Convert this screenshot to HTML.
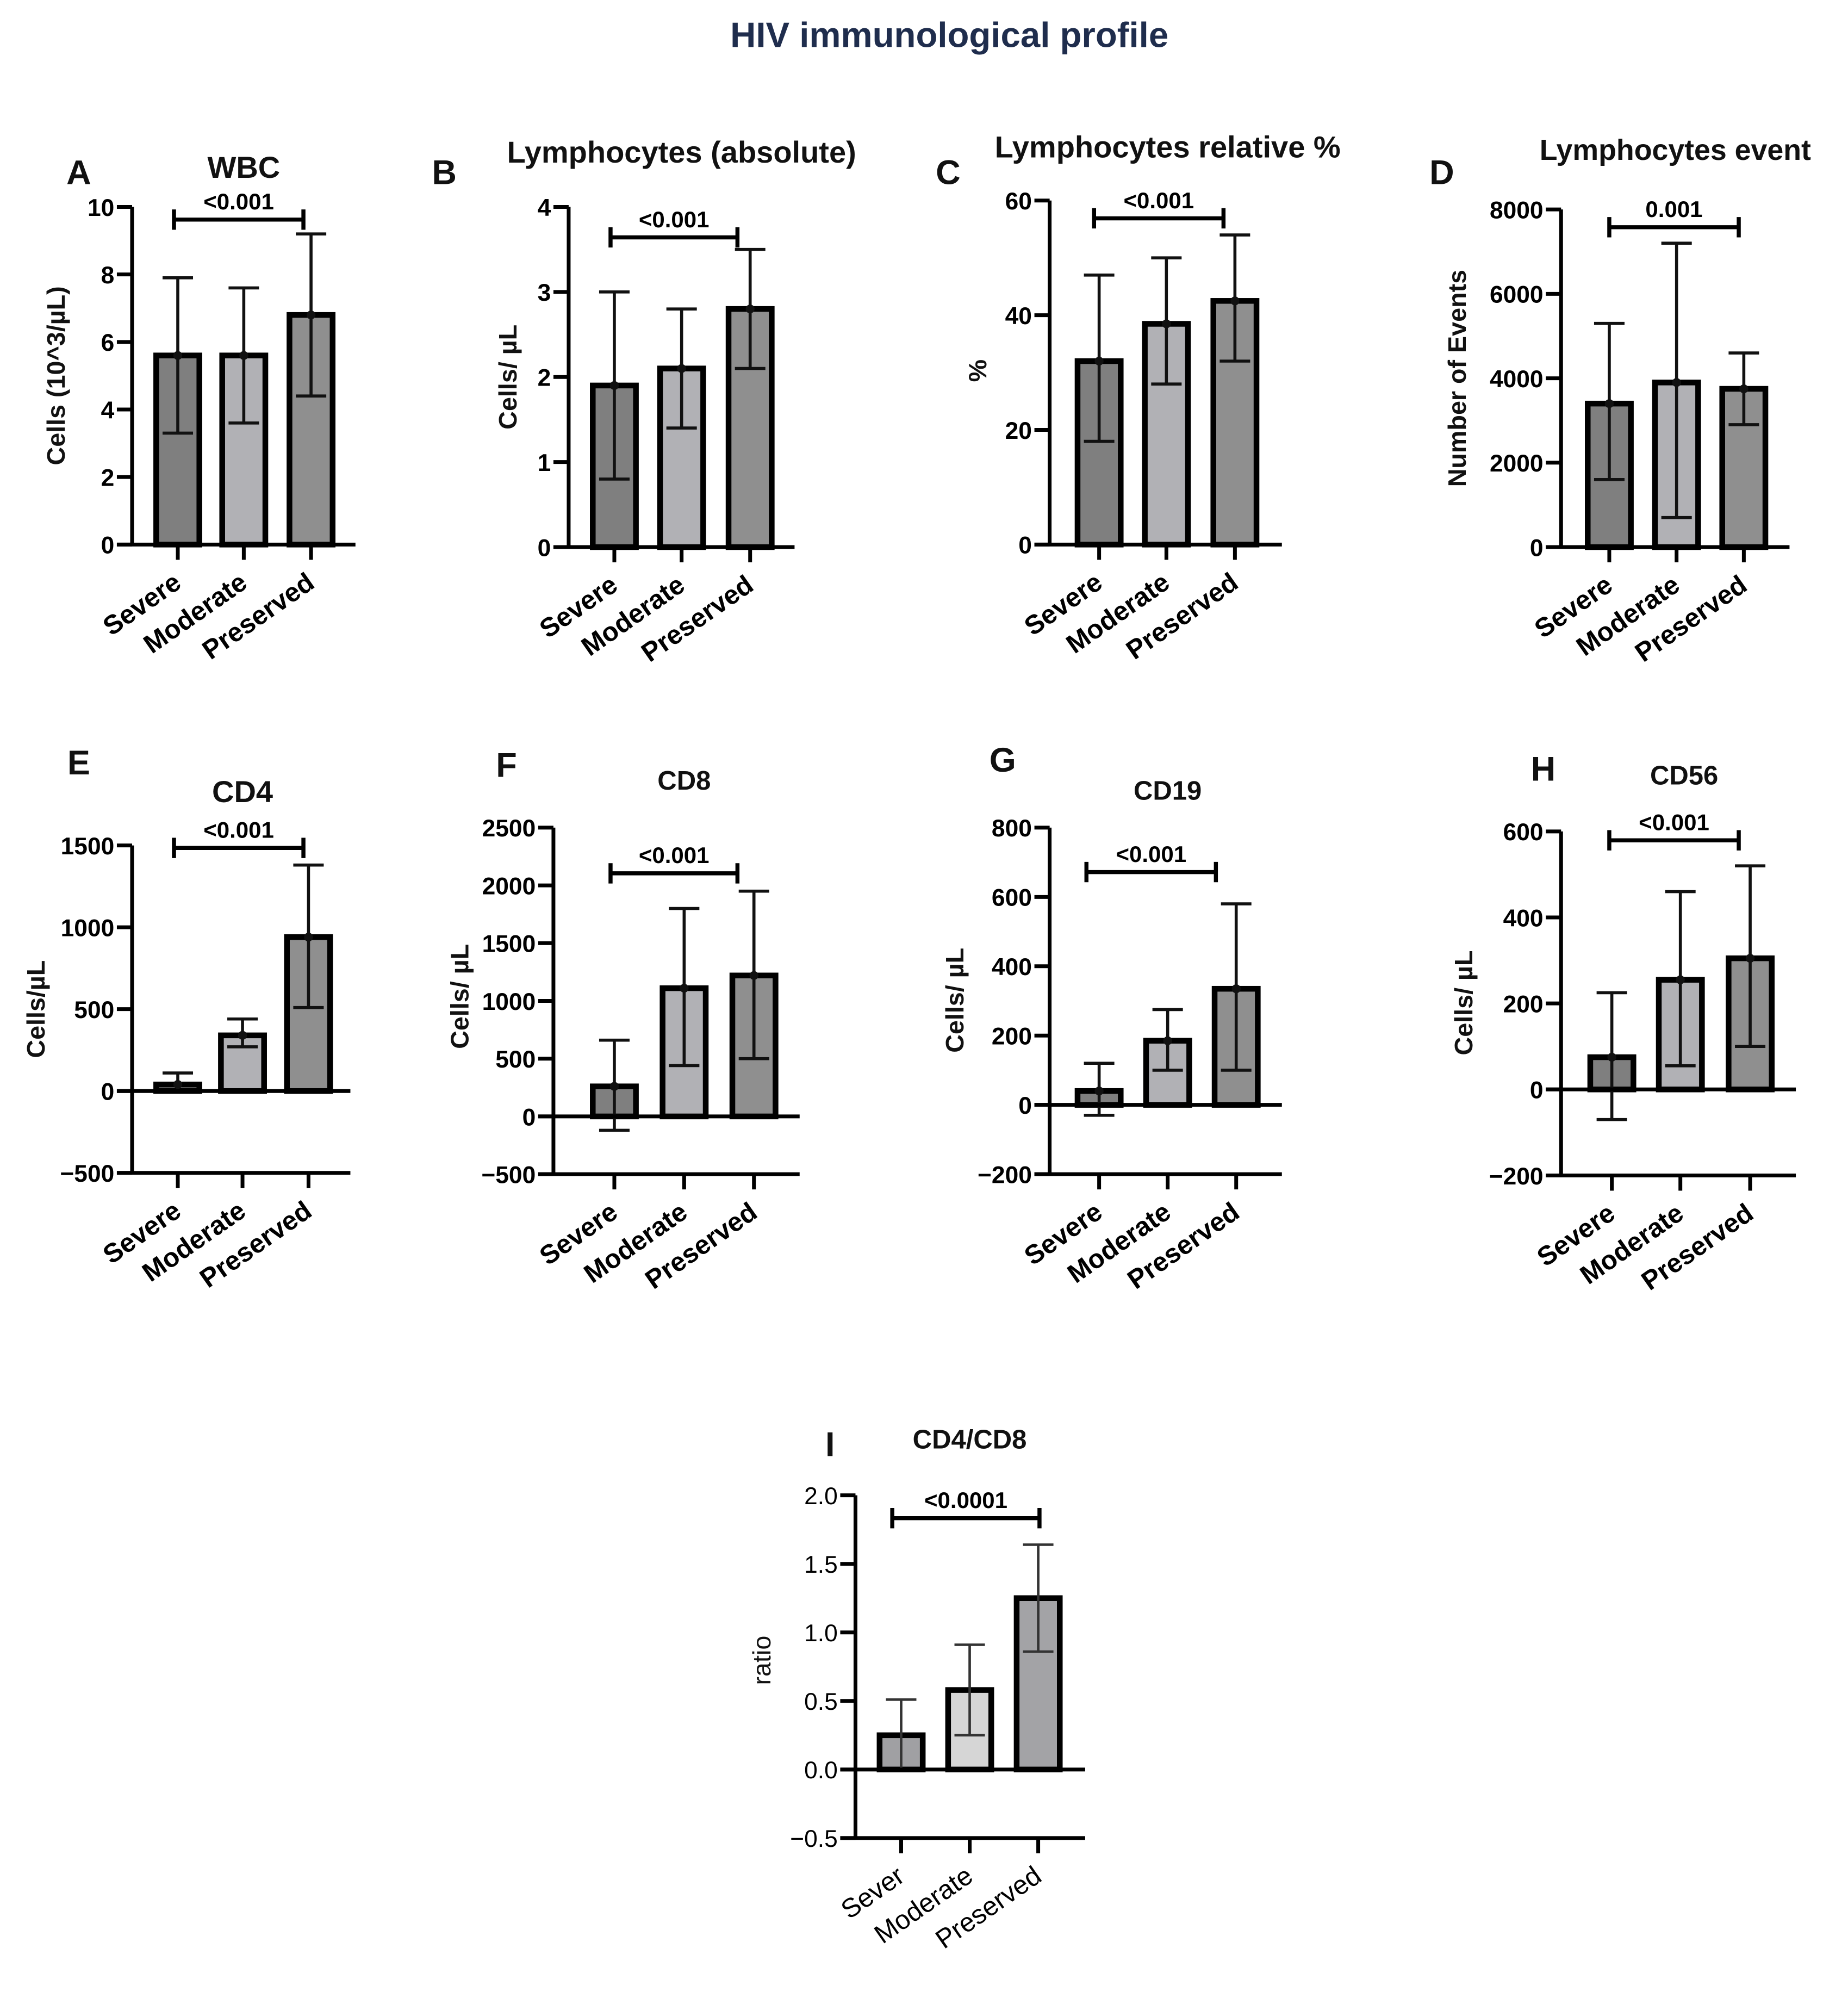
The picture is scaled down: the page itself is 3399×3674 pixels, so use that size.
<!DOCTYPE html>
<html><head><meta charset="utf-8"><style>
html,body{margin:0;padding:0;background:#fff;}
svg{display:block;font-family:"Liberation Sans",Arial,sans-serif;font-weight:bold;}
</style></head><body>
<svg id="fig" width="3399" height="3674" viewBox="0 0 1456 1574" xmlns="http://www.w3.org/2000/svg">
<text x="748" y="37" text-anchor="middle" font-size="28" fill="#1f2d4d">HIV immunological profile</text>
</svg>
<script>
const catsMain=["Severe","Moderate","Preserved"];
const catsI=["Sever","Moderate","Preserved"];
const valsA=[5.6,5.6,6.8], loA=[3.3,3.6,4.4], hiA=[7.9,7.6,9.2], ticksA=[0,2,4,6,8,10];
const valsB=[1.9,2.1,2.8], loB=[0.8,1.4,2.1], hiB=[3.0,2.8,3.5], ticksB=[0,1,2,3,4];
const valsC=[32,38.5,42.5], loC=[18,28,32], hiC=[47,50,54], ticksC=[0,20,40,60];
const valsD=[3400,3900,3750], loD=[1600,700,2900], hiD=[5300,7200,4600], ticksD=[0,2000,4000,6000,8000];
const valsE=[40,340,940], loE=[0,270,510], hiE=[110,440,1380], ticksE=[-500,0,500,1000,1500];
const valsF=[260,1110,1220], loF=[-120,440,500], hiF=[660,1800,1950], ticksF=[-500,0,500,1000,1500,2000,2500];
const valsG=[40,185,335], loG=[-30,100,100], hiG=[120,275,580], ticksG=[-200,0,200,400,600,800];
const valsH=[75,255,305], loH=[-70,55,100], hiH=[225,460,520], ticksH=[-200,0,200,400,600];
const valsI=[0.25,0.58,1.25], loI=[0,0.25,0.86], hiI=[0.51,0.91,1.64], ticksI=[-0.5,0,0.5,1.0,1.5,2.0];
const tickTextI=["−0.5","0.0","0.5","1.0","1.5","2.0"];

const NS="http://www.w3.org/2000/svg";
const svg=document.getElementById('fig');
function mk(tag,attrs,parent){const e=document.createElementNS(NS,tag);for(const k in attrs)e.setAttribute(k,attrs[k]);(parent||svg).appendChild(e);return e;}
function fmt(v){return v<0?"−"+Math.abs(v):String(v);}

const panels=[
 {id:"a",letter:"A",lx:62,ly:145,title:"WBC",tx:192,ty:140,ts:24,ylab:"Cells (10^3/µL)",ylx:51,yly:296,ax:104,x1:280,ytop:163,ybot:429,cx:[140,192,245],bw:34,
  vals:valsA,lo:loA,hi:hiA,ticks:ticksA,cats:catsMain,sig:[137,239,173],sigT:"<0.001",fills:["#7f7f7f","#b1b1b5","#8f8f8f"]},
 {id:"b",letter:"B",lx:350,ly:145,title:"Lymphocytes (absolute)",tx:537,ty:128,ts:24,ylab:"Cells/ µL",ylx:407,yly:297,ax:448,x1:626,ytop:163,ybot:431,cx:[484,537,591],bw:34,
  vals:valsB,lo:loB,hi:hiB,ticks:ticksB,cats:catsMain,sig:[481,581,187],sigT:"<0.001",fills:["#7f7f7f","#b1b1b5","#8f8f8f"]},
 {id:"c",letter:"C",lx:747,ly:145,title:"Lymphocytes relative %",tx:920,ty:124,ts:24,ylab:"%",ylx:777,yly:292,ax:827,x1:1010,ytop:158,ybot:429,cx:[866,919,973],bw:34,
  vals:valsC,lo:loC,hi:hiC,ticks:ticksC,cats:catsMain,sig:[862,964,172],sigT:"<0.001",fills:["#7f7f7f","#b1b1b5","#8f8f8f"]},
 {id:"d",letter:"D",lx:1136,ly:145,title:"Lymphocytes event",tx:1320,ty:126,ts:23,ylab:"Number of Events",ylx:1155,yly:298,ax:1230,x1:1410,ytop:165,ybot:431,cx:[1268,1321,1374],bw:34,
  vals:valsD,lo:loD,hi:hiD,ticks:ticksD,cats:catsMain,sig:[1268,1370,179],sigT:"0.001",fills:["#7f7f7f","#b1b1b5","#8f8f8f"]},
 {id:"e",letter:"E",lx:62,ly:610,title:"CD4",tx:191,ty:632,ts:24,ylab:"Cells/µL",ylx:35,yly:795,ax:104,x1:276,ytop:666,ybot:924,cx:[140,191,243],bw:34,
  vals:valsE,lo:loE,hi:hiE,ticks:ticksE,cats:catsMain,sig:[137,239,668],sigT:"<0.001",fills:["#7f7f7f","#b1b1b5","#8f8f8f"]},
 {id:"f",letter:"F",lx:399,ly:612,title:"CD8",tx:539,ty:622,ts:21,ylab:"Cells/ µL",ylx:369,yly:785,ax:436,x1:630,ytop:652,ybot:925,cx:[484,539,594],bw:34,
  vals:valsF,lo:loF,hi:hiF,ticks:ticksF,cats:catsMain,sig:[481,581,688],sigT:"<0.001",fills:["#7f7f7f","#b1b1b5","#8f8f8f"]},
 {id:"g",letter:"G",lx:790,ly:608,title:"CD19",tx:920,ty:630,ts:21,ylab:"Cells/ µL",ylx:759,yly:788,ax:827,x1:1010,ytop:652,ybot:925,cx:[866,920,974],bw:34,
  vals:valsG,lo:loG,hi:hiG,ticks:ticksG,cats:catsMain,sig:[856,958,687],sigT:"<0.001",fills:["#7f7f7f","#b1b1b5","#8f8f8f"]},
 {id:"h",letter:"H",lx:1216,ly:615,title:"CD56",tx:1327,ty:618,ts:21,ylab:"Cells/ µL",ylx:1160,yly:790,ax:1230,x1:1415,ytop:655,ybot:926,cx:[1270,1324,1379],bw:34,
  vals:valsH,lo:loH,hi:hiH,ticks:ticksH,cats:catsMain,sig:[1268,1370,662],sigT:"<0.001",fills:["#7f7f7f","#b1b1b5","#8f8f8f"]},
 {id:"i",letter:"I",lx:654,ly:1147,title:"CD4/CD8",tx:764,ty:1141,ts:21,ylab:"ratio",ylx:607,yly:1308,ax:674,x1:855,ytop:1178,ybot:1448,cx:[710,764,818],bw:34,
  vals:valsI,lo:loI,hi:hiI,ticks:ticksI,tickText:tickTextI,cats:catsI,sig:[703,819,1196],sigT:"<0.0001",fills:["#a0a0a3","#d6d6d6","#a3a3a6"],light:true,bold:false}
];

panels.forEach(p=>{
  const g=mk('g',{});
  
  
  const tmin=p.ticks[0], tmax=p.ticks[p.ticks.length-1];
  const y=v=>p.ybot-(v-tmin)/(tmax-tmin)*(p.ybot-p.ytop);
  const y0=y(Math.max(0,tmin));
  const fw=p.bold===false?"normal":"bold";
  let t=mk('text',{x:p.lx,y:p.ly,'text-anchor':'middle','font-size':27,fill:'#111'},g);t.textContent=p.letter;
  
  t=mk('text',{x:p.tx,y:p.ty,'text-anchor':'middle','font-size':p.ts,fill:'#111'},g);t.textContent=p.title;
  
  t=mk('text',{x:p.ylx,y:p.yly,'text-anchor':'middle','font-size':20,fill:'#111','font-weight':p.bold===false?'normal':'bold',transform:`rotate(-90 ${p.ylx} ${p.yly})`},g);t.textContent=p.ylab;
  
  p.vals.forEach((v,i)=>{
    const yt=y(v);
    const r=mk('rect',{x:p.cx[i]-p.bw/2,y:Math.min(yt,y0),width:p.bw,height:Math.abs(y0-yt),fill:p.fills[i],stroke:'#000','stroke-width':4.5},g);
    
    
  });
  const ec=p.light?'#333':'#111', ew=p.light?2:2.4;
  p.vals.forEach((v,i)=>{
    const eg=mk('g',{stroke:ec,'stroke-width':ew},g);
    
    
    mk('line',{x1:p.cx[i],x2:p.cx[i],y1:y(p.lo[i]),y2:y(p.hi[i])},eg);
    mk('line',{x1:p.cx[i]-12,x2:p.cx[i]+12,y1:y(p.lo[i]),y2:y(p.lo[i])},eg);
    mk('line',{x1:p.cx[i]-12,x2:p.cx[i]+12,y1:y(p.hi[i]),y2:y(p.hi[i])},eg);
    if(!p.light) mk('circle',{cx:p.cx[i],cy:y(v),r:3.5,fill:'#111',stroke:'none'},eg);
  });
  const ya=mk('g',{stroke:'#000','stroke-width':3},g);
  
  mk('line',{x1:p.ax,x2:p.ax,y1:p.ytop,y2:p.ybot},ya);
  p.ticks.forEach((tv,k)=>{
    mk('line',{x1:p.ax-12,x2:p.ax,y1:y(tv),y2:y(tv)},ya);
    const tt=mk('text',{x:p.ax-14,y:y(tv)+7,'text-anchor':'end','font-size':19,fill:'#000',stroke:'none','font-weight':fw},g);
    tt.textContent=p.tickText?p.tickText[k]:fmt(tv);
    
  });
  const xa=mk('g',{stroke:'#000','stroke-width':3},g);
  
  mk('line',{x1:p.ax-12,x2:p.x1,y1:y0,y2:y0},xa);
  if(tmin<0) mk('line',{x1:p.ax-12,x2:p.x1,y1:p.ybot,y2:p.ybot},xa);
  p.cats.forEach((c,i)=>{
    mk('line',{x1:p.cx[i],x2:p.cx[i],y1:p.ybot,y2:p.ybot+12},xa);
    const lx=p.cx[i]+4, ly=p.ybot+33;
    const ct=mk('text',{x:lx,y:ly,'text-anchor':'end','font-size':21,fill:'#000',stroke:'none','font-weight':fw,transform:`rotate(-35 ${lx} ${ly})`},g);
    ct.textContent=c;
    
  });
  const sg=mk('g',{stroke:'#000','stroke-width':3.2},g);
  
  const [s1,s2,sy]=p.sig;
  mk('line',{x1:s1,x2:s2,y1:sy,y2:sy},sg);
  mk('line',{x1:s1,x2:s1,y1:sy-8,y2:sy+8},sg);
  mk('line',{x1:s2,x2:s2,y1:sy-8,y2:sy+8},sg);
  const st=mk('text',{x:(s1+s2)/2,y:sy-8,'text-anchor':'middle','font-size':18,fill:'#000',stroke:'none'},g);
  st.textContent=p.sigT;
  
});
</script>
</body></html>
